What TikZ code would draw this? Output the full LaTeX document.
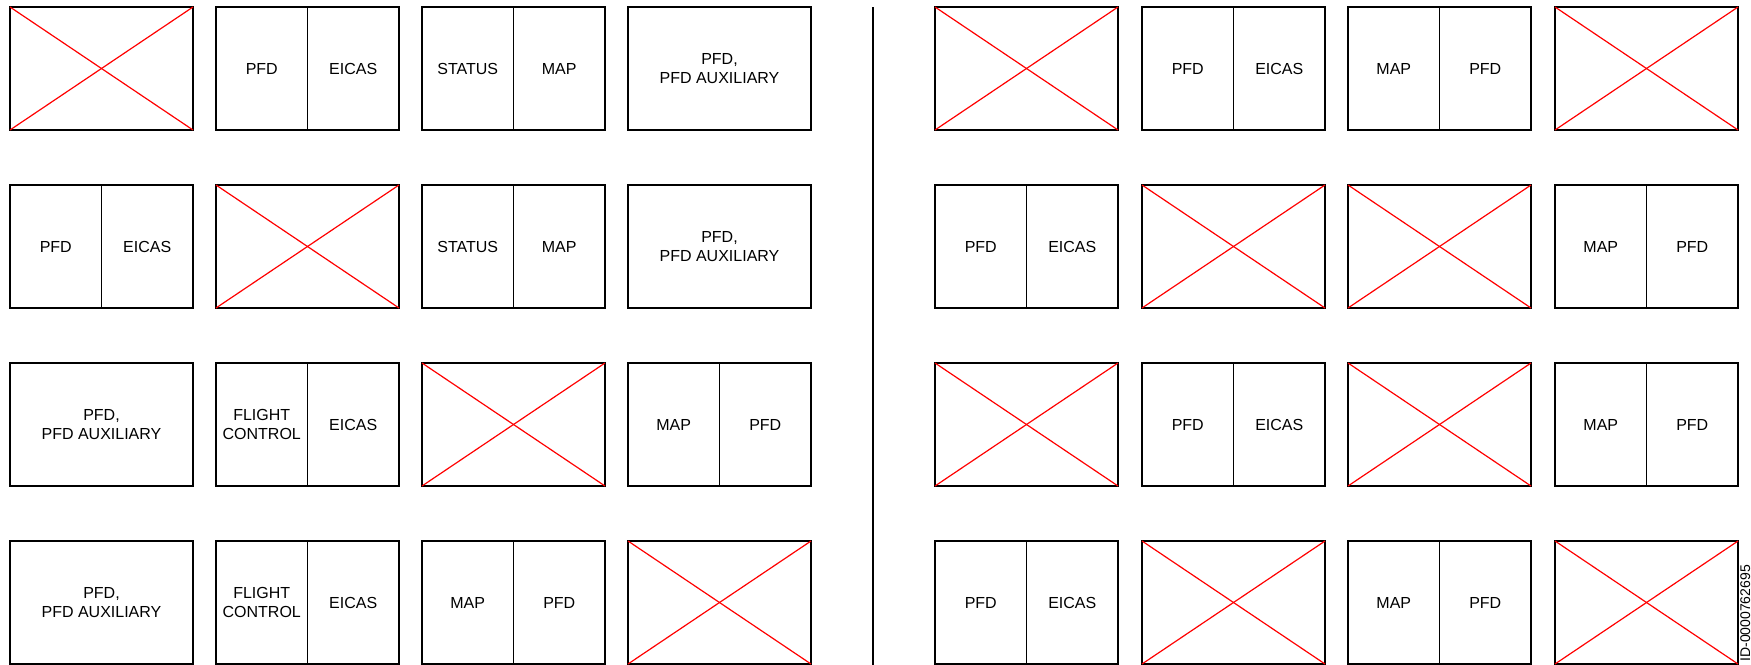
\documentclass[tikz,border=0pt]{standalone}
\usepackage{fontspec}
\setmainfont{Liberation Sans}
\newcommand\xpanel[3]{%
  \node[panel] (#1) at (#2,#3) {};
  \draw[cross] (#1.north west) -- (#1.south east);
  \draw[cross] (#1.south west) -- (#1.north east);}
\newcommand\spanel[5]{%
  \node[halfp] (#1l) at (#2,#3) {#4};
  \node[halfp] (#1r) at (#1l.north east) {#5};}
\newcommand\fpanel[4]{%
  \node[panel] (#1) at (#2,#3) {#4};}
\begin{document}
\begin{tikzpicture}[x=0.5pt,y=-0.5pt,
  base/.style={draw=black, line width=0.8pt, inner sep=0pt, outer sep=0pt,
    anchor=north west, minimum height=61.5pt, align=center,
    font=\fontsize{8pt}{9.25pt}\selectfont},
  panel/.style={base, minimum width=91.5pt},
  halfp/.style={base, minimum width=45.75pt},
  cross/.style={draw=red, line width=0.6pt},
  sep/.style={draw=black, line width=0.8pt}]
\useasboundingbox (0,0) rectangle (1751,664);
% left side
\xpanel{a11}{10}{7}
\spanel{a12}{216}{7}{PFD}{EICAS}
\spanel{a13}{422}{7}{STATUS}{MAP}
\fpanel{a14}{628}{7}{PFD,\\PFD AUXILIARY}
\spanel{a21}{10}{185}{PFD}{EICAS}
\xpanel{a22}{216}{185}
\spanel{a23}{422}{185}{STATUS}{MAP}
\fpanel{a24}{628}{185}{PFD,\\PFD AUXILIARY}
\fpanel{a31}{10}{363}{PFD,\\PFD AUXILIARY}
\spanel{a32}{216}{363}{FLIGHT\\CONTROL}{EICAS}
\xpanel{a33}{422}{363}
\spanel{a34}{628}{363}{MAP}{PFD}
\fpanel{a41}{10}{541}{PFD,\\PFD AUXILIARY}
\spanel{a42}{216}{541}{FLIGHT\\CONTROL}{EICAS}
\spanel{a43}{422}{541}{MAP}{PFD}
\xpanel{a44}{628}{541}
% separator
\coordinate (vtop) at (873,7);
\coordinate (vbot) at (873,670);
\draw[sep] (vtop) -- (vbot);
% right side
\xpanel{b11}{935}{7}
\spanel{b12}{1142}{7}{PFD}{EICAS}
\spanel{b13}{1348}{7}{MAP}{PFD}
\xpanel{b14}{1555}{7}
\spanel{b21}{935}{185}{PFD}{EICAS}
\xpanel{b22}{1142}{185}
\xpanel{b23}{1348}{185}
\spanel{b24}{1555}{185}{MAP}{PFD}
\xpanel{b31}{935}{363}
\spanel{b32}{1142}{363}{PFD}{EICAS}
\xpanel{b33}{1348}{363}
\spanel{b34}{1555}{363}{MAP}{PFD}
\spanel{b41}{935}{541}{PFD}{EICAS}
\xpanel{b42}{1142}{541}
\spanel{b43}{1348}{541}{MAP}{PFD}
\xpanel{b44}{1555}{541}
% id
\node[rotate=90, anchor=base west, inner sep=0pt, font=\fontsize{7pt}{8pt}\selectfont] (id) at (1750,662) {ID-0000762695};
\end{tikzpicture}
\end{document}
